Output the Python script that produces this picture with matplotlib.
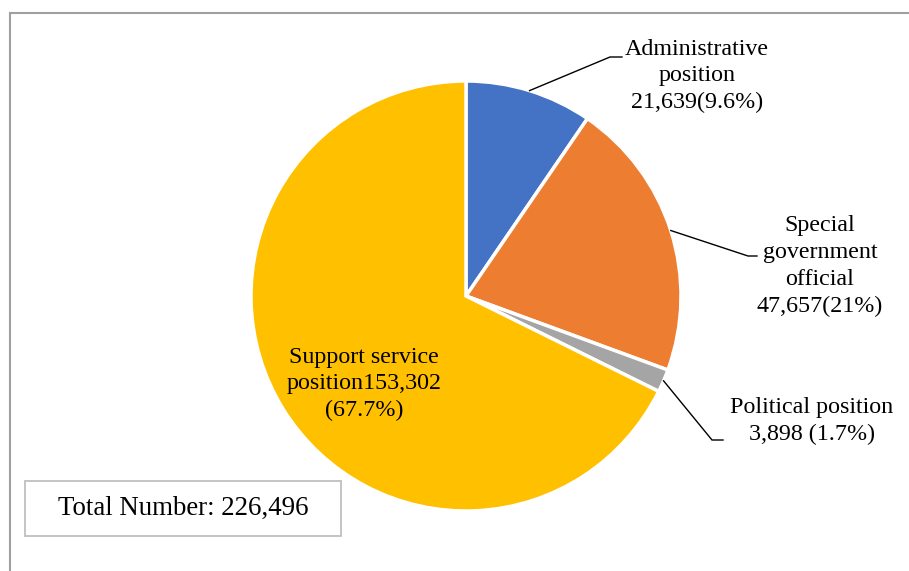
import numpy as np
import matplotlib
matplotlib.use("Agg")
import matplotlib.pyplot as plt
from matplotlib.patches import Rectangle

categories = ["Administrative position", "Special government official",
              "Political position", "Support service position"]
values = [21639, 47657, 3898, 153302]
label_texts = ["Administrative\nposition\n21,639(9.6%)",
               "Special\ngovernment\nofficial\n47,657(21%)",
               "Political position\n3,898 (1.7%)",
               "Support service\nposition153,302\n(67.7%)"]
total_text = "Total Number: 226,496"
colors = ["#4472C4", "#ED7D31", "#A5A5A5", "#FFC000"]

W, H = 909, 571
plt.rcParams['font.family'] = ['Liberation Serif', 'DejaVu Serif']
fig = plt.figure(figsize=(W / 100, H / 100), dpi=100)
ax = fig.add_axes([0, 0, 1, 1])


def Y(y):
    return H - y


cx, cy, R = 466, Y(296), 215
wedges, _ = ax.pie(values, colors=colors, startangle=90, counterclock=False,
                   center=(cx, cy), radius=R, explode=[0, 0, 0.02, 0],
                   wedgeprops=dict(edgecolor="white", linewidth=2.5),
                   frame=True)
ax.set_xlim(0, W)
ax.set_ylim(0, H)
ax.set_aspect('auto')
ax.axis('off')

# outer border
ax.add_patch(Rectangle((10, -20), 940, Y(13) + 20, fill=False,
                       edgecolor="#A0A0A0", linewidth=1.5, clip_on=False))

fs = 17.3
# label positions (layout) and leader elbows
lab_pos = [(697, 76), (820, 266), (812, 421), (364, 384)]
elbows = [((610, 57), (622, 57)), ((748, 256), (757, 256)),
          ((712, 440), (723, 440)), None]
for i, w in enumerate(wedges):
    tx, ty = lab_pos[i]
    ax.text(tx, Y(ty), label_texts[i], ha="center", va="center",
            fontsize=fs, color="black", linespacing=1.36)
    if elbows[i] is not None:
        mid = np.deg2rad((w.theta1 + w.theta2) / 2)
        wc = w.center
        sx = wc[0] + w.r * np.cos(mid)
        sy = wc[1] + w.r * np.sin(mid)
        (ex, ey), (fx, fy) = elbows[i]
        ax.plot([sx, ex, fx], [sy, Y(ey), Y(fy)], color="black", lw=1.0,
                solid_joinstyle="miter")

# total box
ax.add_patch(Rectangle((25, Y(536)), 316, 55, fill=True, facecolor="white",
                       edgecolor="#BFBFBF", linewidth=1.3))
ax.text(183, Y(508), total_text, ha="center", va="center", fontsize=19.4,
        color="black")

fig.savefig("out.png", dpi=100)
